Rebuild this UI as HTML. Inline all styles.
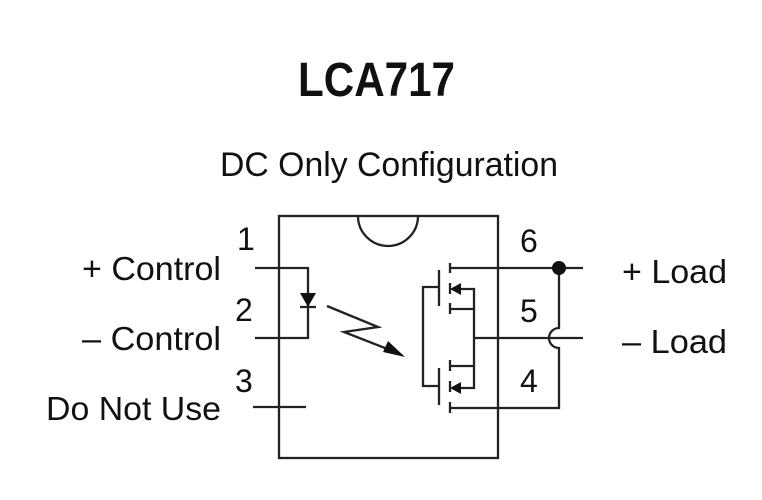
<!DOCTYPE html>
<html><head><style>body{margin:0;background:#fff}svg{display:block}</style></head>
<body>
<svg width="762" height="500" viewBox="0 0 762 500" xmlns="http://www.w3.org/2000/svg">
<g font-family="Liberation Sans, sans-serif" fill="#111">
<text x="298" y="96" font-size="48" font-weight="bold" textLength="157" lengthAdjust="spacingAndGlyphs">LCA717</text>
<text x="220" y="176" font-size="34" textLength="338" lengthAdjust="spacingAndGlyphs">DC Only Configuration</text>
<text x="82" y="280" font-size="33" textLength="139" lengthAdjust="spacingAndGlyphs">+ Control</text>
<text x="82" y="350" font-size="33" textLength="139" lengthAdjust="spacingAndGlyphs">– Control</text>
<text x="46" y="420" font-size="33" textLength="175" lengthAdjust="spacingAndGlyphs">Do Not Use</text>
<text x="237" y="250" font-size="32">1</text>
<text x="235" y="321" font-size="32">2</text>
<text x="235" y="392" font-size="32">3</text>
<text x="520" y="252" font-size="32">6</text>
<text x="520" y="322" font-size="32">5</text>
<text x="520" y="392" font-size="32">4</text>
<text x="622" y="283" font-size="33" textLength="105" lengthAdjust="spacingAndGlyphs">+ Load</text>
<text x="622" y="353" font-size="33" textLength="105" lengthAdjust="spacingAndGlyphs">– Load</text>
</g>
<g stroke="#222" stroke-width="2.3" fill="none">
<rect x="279" y="216" width="219" height="242"/>
<path d="M358 216 A30 30 0 0 0 418 216"/>
<path d="M255 268 H308 V338 H255"/>
<path d="M300 307 H316"/>
<path d="M253 407 H306"/>
<path d="M327 306 L378 327 L344 332 L395 352"/>
<path d="M450 263 V273 M450 283 V294 M450 303 V314 M450 360 V371 M450 381 V392 M450 402 V413"/>
<path d="M439 270 V306 M439 368 V405"/>
<path d="M439 287 H423 V386 H439"/>
<path d="M450 268 H583"/>
<path d="M458 289 H474 V388 H458"/>
<path d="M450 309 H474 M450 366 H474"/>
<path d="M474 338 H583"/>
<path d="M450 408 H559 V348 A10 10 0 0 1 559 328 V268"/>
</g>
<g fill="#111">
<polygon points="300,293 316,293 308,307"/>
<polygon points="405,357 388,341 383,352"/>
<polygon points="450,289 461,283 461,295"/>
<polygon points="450,388 461,382 461,394"/>
<circle cx="559" cy="268" r="7"/>
</g>
</svg>
</body></html>
